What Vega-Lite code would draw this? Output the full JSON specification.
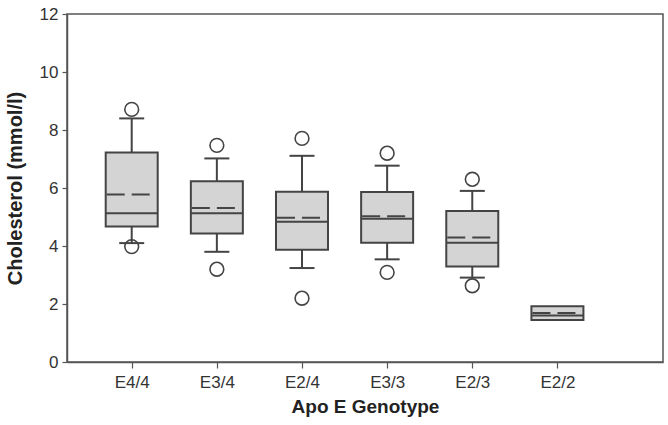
{
  "$schema": "https://vega.github.io/schema/vega-lite/v6.json",
  "width": 596,
  "height": 348,
  "autosize": {"type": "none"},
  "padding": {"left": 67, "top": 14, "right": 5, "bottom": 63},
  "background": "white",
  "config": {
    "font": "Liberation Sans",
    "view": {"stroke": "#555555", "strokeWidth": 1.5},
    "axis": {
      "labelFont": "Liberation Sans",
      "titleFont": "Liberation Sans",
      "labelFontSize": 17,
      "labelColor": "#333333",
      "titleColor": "#222222",
      "titleFontWeight": "bold",
      "domainColor": "#555555",
      "domainWidth": 1.5,
      "tickColor": "#555555",
      "tickWidth": 1.2,
      "grid": false
    }
  },
  "data": {
    "values": [
      {"genotype": "E4/4", "lo": 4.10, "q1": 4.67, "median": 5.13, "mean": 5.78, "q3": 7.22, "hi": 8.40, "outHi": 8.71, "outLo": 3.98},
      {"genotype": "E3/4", "lo": 3.80, "q1": 4.43, "median": 5.13, "mean": 5.31, "q3": 6.23, "hi": 7.02, "outHi": 7.47, "outLo": 3.20},
      {"genotype": "E2/4", "lo": 3.24, "q1": 3.87, "median": 4.84, "mean": 4.97, "q3": 5.87, "hi": 7.11, "outHi": 7.71, "outLo": 2.20},
      {"genotype": "E3/3", "lo": 3.54, "q1": 4.11, "median": 4.94, "mean": 5.03, "q3": 5.86, "hi": 6.77, "outHi": 7.20, "outLo": 3.09},
      {"genotype": "E2/3", "lo": 2.91, "q1": 3.29, "median": 4.11, "mean": 4.29, "q3": 5.21, "hi": 5.90, "outHi": 6.30, "outLo": 2.63},
      {"genotype": "E2/2", "lo": null, "q1": 1.45, "median": 1.60, "mean": 1.69, "q3": 1.92, "hi": null, "outHi": null, "outLo": null}
    ]
  },
  "encoding": {
    "x": {
      "field": "genotype",
      "type": "nominal",
      "sort": null,
      "scale": {"type": "point", "padding": 1.37, "align": 0.38},
      "axis": {
        "title": "Apo E Genotype",
        "titleFontSize": 19,
        "labelAngle": 0,
        "tickSize": 6,
        "labelPadding": 6,
        "titlePadding": 7
      }
    }
  },
  "layer": [
    {
      "mark": {"type": "rule", "color": "#444444", "strokeWidth": 2},
      "encoding": {
        "y": {
          "field": "lo",
          "type": "quantitative",
          "scale": {"domain": [0, 12], "nice": false},
          "axis": {
            "title": "Cholesterol (mmol/l)",
            "titleFontSize": 20,
            "values": [0, 2, 4, 6, 8, 10, 12],
            "tickSize": 5,
            "labelPadding": 4,
            "titlePadding": 14
          }
        },
        "y2": {"field": "hi"}
      }
    },
    {
      "mark": {"type": "tick", "color": "#444444", "size": 25, "thickness": 2, "opacity": 1},
      "encoding": {"y": {"field": "lo", "type": "quantitative"}}
    },
    {
      "mark": {"type": "tick", "color": "#444444", "size": 25, "thickness": 2, "opacity": 1},
      "encoding": {"y": {"field": "hi", "type": "quantitative"}}
    },
    {
      "mark": {"type": "bar", "width": 52, "fill": "#d4d4d4", "stroke": "#444444", "strokeWidth": 2},
      "encoding": {
        "y": {"field": "q1", "type": "quantitative"},
        "y2": {"field": "q3"}
      }
    },
    {
      "mark": {"type": "tick", "color": "#444444", "size": 52, "thickness": 2, "opacity": 1},
      "encoding": {"y": {"field": "median", "type": "quantitative"}}
    },
    {
      "mark": {"type": "rule", "color": "#444444", "strokeWidth": 2, "strokeDash": [18, 7], "xOffset": -25, "x2Offset": 25},
      "encoding": {
        "x2": {"field": "genotype"},
        "y": {"field": "mean", "type": "quantitative"}
      }
    },
    {
      "mark": {"type": "point", "shape": "circle", "filled": false, "color": "#444444", "size": 190, "strokeWidth": 1.6, "opacity": 1},
      "encoding": {"y": {"field": "outHi", "type": "quantitative"}}
    },
    {
      "mark": {"type": "point", "shape": "circle", "filled": false, "color": "#444444", "size": 190, "strokeWidth": 1.6, "opacity": 1},
      "encoding": {"y": {"field": "outLo", "type": "quantitative"}}
    }
  ]
}
